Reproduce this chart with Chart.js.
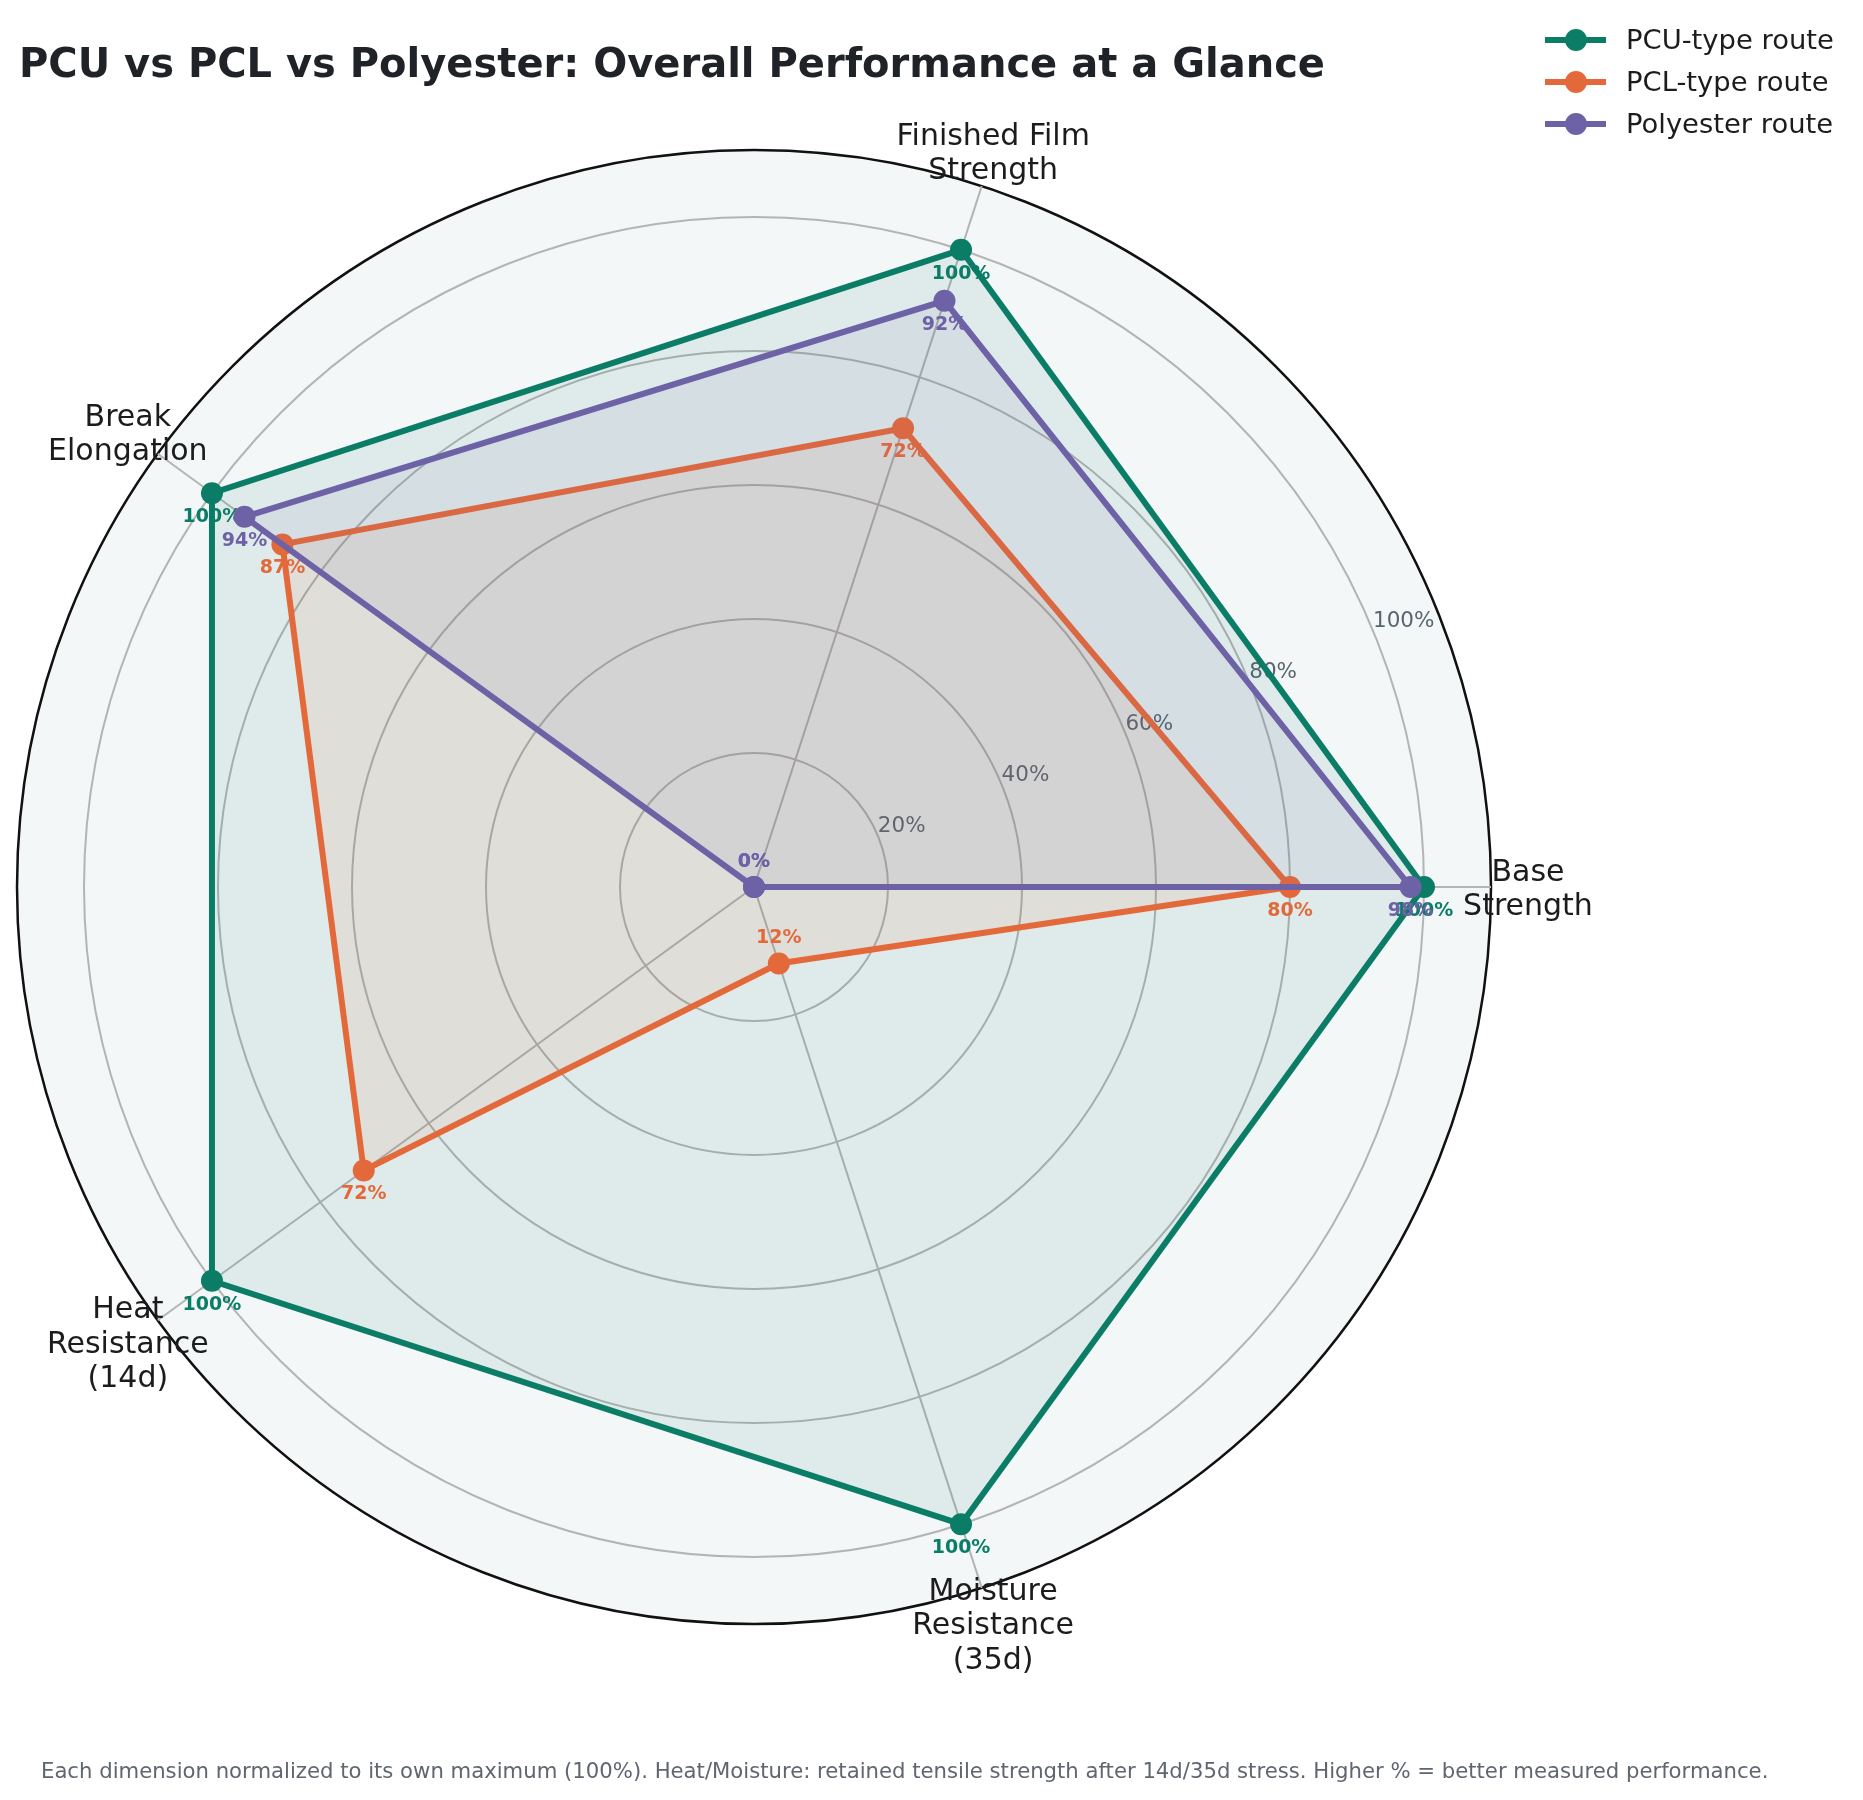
<!DOCTYPE html>
<html>
<head>
<meta charset="utf-8">
<script src="https://cdn.jsdelivr.net/npm/chart.js@4.4.1/dist/chart.umd.min.js"></script>
<style>
html,body{margin:0;padding:0;background:#ffffff;}
body{width:1863px;height:1800px;position:relative;overflow:hidden;font-family:"DejaVu Sans",sans-serif;}
#c{position:absolute;left:0;top:0;width:1863px;height:1800px;}
#title{position:absolute;left:19px;top:43px;font-size:40px;line-height:40px;font-weight:bold;color:#1f2328;white-space:nowrap;}
#note{position:absolute;left:41px;top:1760px;font-size:21.2px;line-height:21.2px;color:#5f6670;white-space:nowrap;}
.lg{position:absolute;left:1545px;height:40px;display:flex;align-items:center;white-space:nowrap;}
.lg .ln{position:relative;width:61px;height:6px;}
.lg .mk{position:absolute;left:19.5px;top:-8px;width:22px;height:22px;border-radius:50%;}
.lg .tx{margin-left:20px;font-size:27.4px;line-height:40px;color:#1c1c1c;}
</style>
</head>
<body>
<canvas id="c" width="1863" height="1800"></canvas>
<div id="title"></div>
<div id="note"></div>
<div id="legend"></div>
<script>
// ---- data ----
const titleText = "PCU vs PCL vs Polyester: Overall Performance at a Glance";
const footnoteText = "Each dimension normalized to its own maximum (100%). Heat/Moisture: retained tensile strength after 14d/35d stress. Higher % = better measured performance.";
const categories = [
  ["Base", "Strength"],
  ["Finished Film", "Strength"],
  ["Break", "Elongation"],
  ["Heat", "Resistance", "(14d)"],
  ["Moisture", "Resistance", "(35d)"]
];
const seriesNames = ["PCU-type route", "PCL-type route", "Polyester route"];
const pcuValues = [100, 100, 100, 100, 100];
const pclValues = [80, 72, 87, 72, 12];
const polyesterValues = [98, 92, 94, 0, 0];
const seriesColors = ["#0b7d67", "#e4693a", "#6e62a7"];
const tickValues = [20, 40, 60, 80, 100];
const gridValues = [0, 20, 40, 60, 80, 100, 110];
const rMax = 110;

// matplotlib goes counter-clockwise from the right; Chart.js goes clockwise
const order = [0, 4, 3, 2, 1];
const seriesValues = [pcuValues, pclValues, polyesterValues];

document.getElementById('title').textContent = titleText;
document.getElementById('note').textContent = footnoteText;
const legendRowsY = [40, 82, 123.5];
const legendEl = document.getElementById('legend');
seriesNames.forEach((n, i) => {
  const row = document.createElement('div');
  row.className = 'lg';
  row.style.top = (legendRowsY[i] - 20) + 'px';
  row.innerHTML = '<div class="ln" style="background:' + seriesColors[i] + '"><div class="mk" style="background:' + seriesColors[i] + '"></div></div><div class="tx"></div>';
  row.querySelector('.tx').textContent = n;
  legendEl.appendChild(row);
});

function hexA(hex, a) {
  const r = parseInt(hex.slice(1, 3), 16), g = parseInt(hex.slice(3, 5), 16), b = parseInt(hex.slice(5, 7), 16);
  return 'rgba(' + r + ',' + g + ',' + b + ',' + a + ')';
}

const FONT = '"DejaVu Sans", sans-serif';

const deco = {
  id: 'deco',
  beforeDraw(chart) {
    const s = chart.scales.r, ctx = chart.ctx;
    ctx.save();
    ctx.beginPath();
    ctx.arc(s.xCenter, s.yCenter, s.drawingArea, 0, Math.PI * 2);
    ctx.fillStyle = '#f3f7f8';
    ctx.fill();
    ctx.restore();
  },
  beforeDatasetsDraw(chart) {
    const s = chart.scales.r, ctx = chart.ctx;
    ctx.save();
    // radial tick labels at 22.5 degrees
    const a = 22.5 * Math.PI / 180;
    ctx.font = '21.5px ' + FONT;
    ctx.fillStyle = '#5b6570';
    ctx.textAlign = 'left';
    ctx.textBaseline = 'alphabetic';
    tickValues.forEach(v => {
      const d = s.getDistanceFromCenterForValue(v);
      ctx.fillText(v + '%', s.xCenter + d * Math.cos(a), s.yCenter - d * Math.sin(a) - 3.5);
    });
    // category labels
    ctx.font = '30px ' + FONT;
    ctx.fillStyle = '#1c1c1c';
    ctx.textAlign = 'center';
    chart.data.labels.forEach((lines, i) => {
      const p = s.getPointPosition(i, s.drawingArea + 37);
      const n = lines.length;
      lines.forEach((t, k) => {
        ctx.fillText(t, p.x, p.y + (k - (n - 1) / 2) * 34.5 + 11);
      });
    });
    ctx.restore();
  },
  afterDatasetDraw(chart, args) {
    const ctx = chart.ctx;
    const ds = chart.data.datasets[args.index];
    ctx.save();
    ctx.font = 'bold 19px ' + FONT;
    ctx.fillStyle = ds.borderColor;
    ctx.textAlign = 'center';
    ctx.textBaseline = 'middle';
    args.meta.data.forEach((pt, j) => {
      const v = ds.data[j];
      const dy = v < 15 ? -25 : 24;
      ctx.fillText(Math.round(v) + '%', pt.x, pt.y + dy);
    });
    ctx.restore();
  }
};

const datasets = seriesNames.map((n, i) => ({
  label: n,
  data: order.map(k => seriesValues[i][k]),
  borderColor: seriesColors[i],
  backgroundColor: hexA(seriesColors[i], 0.09),
  pointBackgroundColor: seriesColors[i],
  pointBorderColor: seriesColors[i],
  pointBorderWidth: 0,
  pointRadius: 11,
  pointHoverRadius: 11,
  borderWidth: 6,
  fill: true,
  tension: 0,
  order: seriesNames.length - 1 - i
}));

new Chart(document.getElementById('c'), {
  type: 'radar',
  data: { labels: order.map(k => categories[k]), datasets },
  options: {
    responsive: false,
    animation: false,
    events: [],
    layout: { padding: { left: 17, top: 150, right: 372, bottom: 176 } },
    plugins: { legend: { display: false }, title: { display: false }, tooltip: { enabled: false } },
    scales: {
      r: {
        min: 0,
        max: rMax,
        startAngle: 90,
        afterBuildTicks: s => { s.ticks = gridValues.map(v => ({ value: v })); },
        ticks: { display: false },
        pointLabels: { display: false },
        grid: {
          circular: true,
          color: c => (c.tick && c.tick.value === rMax) ? '#111111' : '#b4b4b4',
          lineWidth: c => (c.tick && c.tick.value === rMax) ? 2.5 : 2
        },
        angleLines: { display: true, color: '#b4b4b4', lineWidth: 2 }
      }
    }
  },
  plugins: [deco]
});
</script>
</body>
</html>
